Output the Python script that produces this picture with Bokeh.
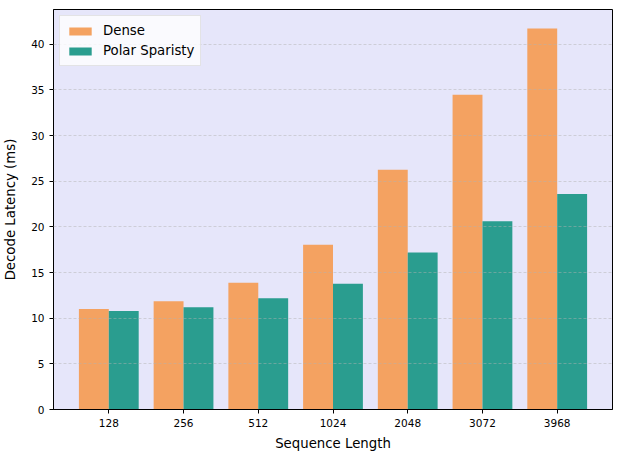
from bokeh.plotting import figure
from bokeh.models import Range1d, FixedTicker, Legend, LegendItem
from bokeh.embed import file_html
from bokeh.resources import INLINE

seq_labels = ["128", "256", "512", "1024", "2048", "3072", "3968"]
dense = [11.0, 11.85, 13.87, 18.03, 26.25, 34.47, 41.73]
polar = [10.78, 11.2, 12.17, 13.77, 17.18, 20.6, 23.59]
y_ticks = [0, 5, 10, 15, 20, 25, 30, 35, 40]

idx = list(range(len(seq_labels)))
bw = 0.4
x_dense = [i - bw / 2 for i in idx]
x_polar = [i + bw / 2 for i in idx]

FONT = "DejaVu Sans"

p = figure(width=614, height=453, output_backend="svg", toolbar_location=None,
           x_range=Range1d(-0.74, 6.74), y_range=Range1d(0, 43.8),
           min_border_left=52, min_border_right=2, min_border_top=9, min_border_bottom=40)

p.background_fill_color = "#E6E6FA"
p.border_fill_color = "white"
p.outline_line_color = "black"
p.outline_line_width = 1

r1 = p.vbar(x=x_dense, top=dense, width=bw, bottom=0, fill_color="#F4A261", line_color=None)
r2 = p.vbar(x=x_polar, top=polar, width=bw, bottom=0, fill_color="#2A9D8F", line_color=None)

p.xaxis.ticker = FixedTicker(ticks=idx)
p.xaxis.major_label_overrides = {i: s for i, s in zip(idx, seq_labels)}
p.yaxis.ticker = FixedTicker(ticks=y_ticks)

for ax in (p.xaxis[0], p.yaxis[0]):
    ax.axis_line_color = "black"
    ax.major_tick_line_color = "black"
    ax.major_tick_out = 4
    ax.major_tick_in = 0
    ax.minor_tick_line_color = None
    ax.major_label_text_font = FONT
    ax.major_label_text_font_size = "10.5px"
    ax.major_label_text_color = "black"
    ax.axis_label_text_font = FONT
    ax.axis_label_text_font_size = "13.3px"
    ax.axis_label_text_font_style = "normal"
    ax.axis_label_text_color = "black"

p.xaxis.axis_label = "Sequence Length"
p.yaxis.axis_label = "Decode Latency (ms)"
p.xaxis.axis_label_standoff = 6
p.yaxis.axis_label_standoff = 10

p.xgrid.grid_line_color = None
p.ygrid.grid_line_color = "#b0b0b0"
p.ygrid.grid_line_alpha = 0.6
p.ygrid.grid_line_dash = "3 2"
p.ygrid.grid_line_width = 0.8
p.ygrid.level = "annotation"

legend = Legend(items=[LegendItem(label="Dense", renderers=[r1]),
                       LegendItem(label="Polar Sparisty", renderers=[r2])],
                location="top_left")
legend.margin = 6
legend.padding = 6
legend.spacing = 3
legend.glyph_width = 28
legend.glyph_height = 10
legend.label_height = 17
legend.label_standoff = 9
legend.label_text_font = FONT
legend.label_text_font_size = "13.3px"
legend.label_text_color = "black"
legend.background_fill_color = "white"
legend.background_fill_alpha = 0.8
legend.border_line_color = "#cccccc"
legend.border_line_width = 1
p.add_layout(legend)

open("out.html", "w").write(file_html(p, INLINE))
